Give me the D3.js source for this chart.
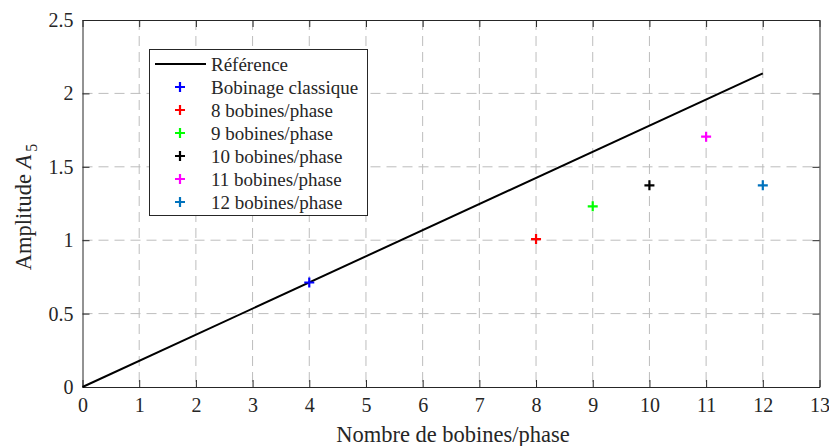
<!DOCTYPE html>
<html lang="fr">
<head>
<meta charset="UTF-8">
<title>Amplitude A5</title>
<script src="https://d3js.org/d3.v7.min.js"></script>
<style>
    body { margin: 0; background: #fff; }
    svg text { font-family: "Liberation Serif", "DejaVu Serif", serif !important; fill: #262626; }
    .grid line { stroke: #bdbdbd; stroke-dasharray: 10,6; stroke-width: 1; }
</style>
</head>
<body>
<svg width="829" height="446"></svg>
<script>
// reference line (end points)
var refX = [0, 12];
var refY = [0, 2.137];

// measured points
var labels = ["Bobinage classique", "8 bobines/phase", "9 bobines/phase", "10 bobines/phase", "11 bobines/phase", "12 bobines/phase"];
var ptX = [4, 8, 9, 10, 11, 12];
var ptY = [0.712, 1.008, 1.231, 1.374, 1.705, 1.374];
var colors = ["#0000ff", "#ff0000", "#00ff00", "#000000", "#ff00ff", "#0072bd"];

var xTicks = d3.range(0, 14);
var yTicks = [0, 0.5, 1, 1.5, 2, 2.5];

var svg = d3.select("svg");
var L = 82.5, R = 819.5, T = 20, B = 387;

var x = d3.scaleLinear().domain([0, 13]).range([L, R]);
var y = d3.scaleLinear().domain([0, 2.5]).range([B, T]);

// grid
var grid = svg.append("g").attr("class", "grid");
grid.selectAll(".gx").data(xTicks.slice(1, -1)).enter().append("line")
    .attr("x1", d => x(d)).attr("x2", d => x(d)).attr("y1", T).attr("y2", B);
grid.selectAll(".gy").data(yTicks.slice(1, -1)).enter().append("line")
    .attr("y1", d => y(d)).attr("y2", d => y(d)).attr("x1", L).attr("x2", R);

// axes (ticks inside, mirrored)
function styleAxis(g) {
    g.attr("font-family", null).attr("font-size", null);
    g.select(".domain").attr("stroke", "#262626");
    g.selectAll(".tick line").attr("stroke", "#262626");
    g.selectAll("text").style("font-size", "20px").attr("fill", "#262626");
}
svg.append("g").attr("transform", "translate(0," + B + ")")
    .call(d3.axisBottom(x).tickValues(xTicks).tickSizeInner(-7).tickSizeOuter(0).tickPadding(11))
    .call(styleAxis);
svg.append("g").attr("transform", "translate(0," + T + ")")
    .call(d3.axisTop(x).tickValues(xTicks).tickSizeInner(-7).tickSizeOuter(0).tickFormat(""))
    .call(styleAxis);
svg.append("g").attr("transform", "translate(" + L + ",0)")
    .call(d3.axisLeft(y).tickValues(yTicks).tickSizeInner(-7).tickSizeOuter(0).tickPadding(9).tickFormat(d3.format("")))
    .call(styleAxis);
svg.append("g").attr("transform", "translate(" + R + ",0)")
    .call(d3.axisRight(y).tickValues(yTicks).tickSizeInner(-7).tickSizeOuter(0).tickFormat(""))
    .call(styleAxis);

// reference line
var line = d3.line().x(d => x(d[0])).y(d => y(d[1]));
svg.append("path").datum(d3.zip(refX, refY))
    .attr("d", line).attr("fill", "none").attr("stroke", "#000").attr("stroke-width", 2);

// plus markers
function cross(sel, cx, cy, c) {
    sel.append("path")
        .attr("d", "M-5,0H5M0,-5V5")
        .attr("transform", "translate(" + cx + "," + cy + ")")
        .attr("stroke", c).attr("stroke-width", 2.2).attr("fill", "none");
}
ptX.forEach(function(v, i) { cross(svg, x(v), y(ptY[i]), colors[i]); });

// legend
var lg = svg.append("g");
lg.append("rect").attr("x", 149.5).attr("y", 49.5).attr("width", 218).attr("height", 166)
    .attr("fill", "#fff").attr("stroke", "#262626").attr("stroke-width", 1);
var rowY = d3.scaleLinear().domain([0, 1]).range([64, 87]);
lg.append("line").attr("x1", 155).attr("x2", 206).attr("y1", rowY(0)).attr("y2", rowY(0))
    .attr("stroke", "#000").attr("stroke-width", 2);
lg.append("text").attr("x", 211).attr("y", rowY(0)).attr("dy", "0.35em")
    .style("font-size", "19px").text("Référence");
labels.forEach(function(l, i) {
    cross(lg, 180, rowY(i + 1), colors[i]);
    lg.append("text").attr("x", 211).attr("y", rowY(i + 1)).attr("dy", "0.35em")
        .style("font-size", "19px").text(l);
});

// axis titles
svg.append("text").attr("x", 453).attr("y", 442).attr("text-anchor", "middle")
    .style("font-size", "22.5px").text("Nombre de bobines/phase");
var yl = svg.append("text").attr("transform", "translate(31,207) rotate(-90)")
    .attr("text-anchor", "middle").style("font-size", "22.5px");
yl.append("tspan").text("Amplitude ");
yl.append("tspan").style("font-style", "italic").text("A");
yl.append("tspan").attr("dy", 6).attr("dx", 3).style("font-size", "16px").text("5");
</script>
</body>
</html>
